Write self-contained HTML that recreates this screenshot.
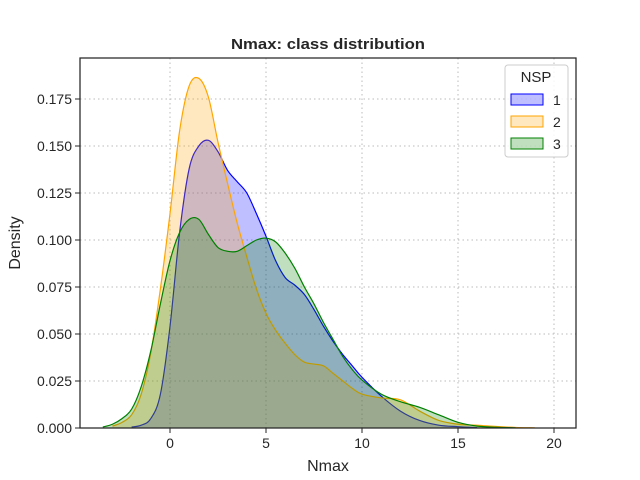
<!DOCTYPE html>
<html><head><meta charset="utf-8"><style>
body{margin:0;background:#fff}
svg{display:block;font-family:"Liberation Sans",sans-serif}
</style></head><body>
<svg id="chart" width="640" height="480" viewBox="0 0 640 480">
<rect width="640" height="480" fill="#fff"/>
<g id="grid"></g>
<g id="series"></g>
<rect x="80" y="58" width="496" height="370" fill="none" stroke="#262626" stroke-width="1.25"/>
<g id="ticks"></g>
<text x="328" y="49" text-anchor="middle" font-size="15" font-weight="bold" fill="#262626" textLength="194" lengthAdjust="spacingAndGlyphs">Nmax: class distribution</text>
<text x="328" y="471" text-anchor="middle" font-size="16" fill="#262626">Nmax</text>
<text transform="translate(20,243) rotate(-90)" text-anchor="middle" font-size="16" fill="#262626">Density</text>
<g>
<rect x="505" y="65" width="63" height="92" rx="3" fill="#fff" fill-opacity="0.85" stroke="#ccc"/>
<text x="536" y="82" text-anchor="middle" font-size="15" fill="#262626">NSP</text>
<rect x="511" y="94" width="32" height="11" fill="rgba(0,0,255,0.25)" stroke="blue"/>
<text x="553" y="105" font-size="14" fill="#262626">1</text>
<rect x="511" y="116" width="32" height="11" fill="rgba(255,165,0,0.25)" stroke="orange"/>
<text x="553" y="127" font-size="14" fill="#262626">2</text>
<rect x="511" y="138" width="32" height="11" fill="rgba(0,128,0,0.25)" stroke="green"/>
<text x="553" y="149" font-size="14" fill="#262626">3</text>
</g>
</svg>
<script>
const xTicks=[0,5,10,15,20];
const yTicks=[0,0.025,0.05,0.075,0.1,0.125,0.15,0.175];
const yTickLabels=["0.000","0.025","0.050","0.075","0.100","0.125","0.150","0.175"];
const blueX=[-2,-1.5,-1,-0.5,0,0.5,1,1.5,2,2.5,3,3.5,4,4.5,5,5.5,6,6.5,7,7.5,8,8.5,9,9.5,10,11,12,13,14,15,16];
const blueY=[0.0005,0.0015,0.005,0.018,0.054,0.104,0.138,0.150,0.153,0.147,0.137,0.131,0.125,0.114,0.102,0.089,0.080,0.076,0.071,0.063,0.054,0.046,0.039,0.033,0.027,0.017,0.009,0.004,0.0015,0.0007,0.0002];
const orangeX=[-3,-2.5,-2,-1.5,-1,-0.5,0,0.5,1,1.5,2,2.5,3,3.5,4,4.5,5,5.5,6,6.5,7,7.5,8,8.5,9,9.5,10,11,12,13,14,15,16,17,18,19];
const orangeY=[0.001,0.003,0.007,0.018,0.040,0.074,0.114,0.158,0.182,0.186,0.176,0.152,0.130,0.109,0.091,0.074,0.061,0.052,0.045,0.039,0.035,0.034,0.033,0.029,0.025,0.021,0.018,0.016,0.015,0.009,0.004,0.002,0.0015,0.0008,0.0003,0.0001];
const greenX=[-3.5,-3,-2.5,-2,-1.5,-1,-0.5,0,0.5,1,1.5,2,2.5,3,3.5,4,4.5,5,5.5,6,6.5,7,7.5,8,8.5,9,9.5,10,11,12,13,14,15,16,17,18];
const greenY=[0.0005,0.002,0.005,0.010,0.022,0.041,0.066,0.089,0.104,0.111,0.111,0.103,0.096,0.094,0.094,0.097,0.100,0.101,0.099,0.093,0.085,0.075,0.066,0.056,0.047,0.038,0.031,0.0255,0.018,0.014,0.011,0.007,0.003,0.001,0.0004,0.0001];
const X0=80,X1=576,Y0=58,Y1=428;
function sx(v){return 170+v*19.2;}
function sy(v){return Y1-v*1880;}
const NS="http://www.w3.org/2000/svg";
const grid=document.getElementById('grid'),ticks=document.getElementById('ticks'),series=document.getElementById('series');
function mk(tag,attrs,parent){const e=document.createElementNS(NS,tag);for(const k in attrs)e.setAttribute(k,attrs[k]);parent.appendChild(e);return e;}
xTicks.forEach(t=>{
  const g=mk('line',{x1:sx(t),x2:sx(t),y1:Y0,y2:Y1,stroke:'#bbb','stroke-dasharray':'1.5,3'},grid);
  
  
  const tk=mk('line',{x1:sx(t),x2:sx(t),y1:Y1,y2:Y1+5,stroke:'#262626'},ticks);
  
  
  const lb=mk('text',{x:sx(t),y:Y1+20,'text-anchor':'middle','font-size':14,fill:'#262626'},ticks);
  lb.textContent=t;
  
  
});
yTicks.forEach((t,i)=>{
  const g=mk('line',{x1:X0,x2:X1,y1:sy(t),y2:sy(t),stroke:'#bbb','stroke-dasharray':'1.5,3'},grid);
  
  
  const tk=mk('line',{x1:X0-5,x2:X0,y1:sy(t),y2:sy(t),stroke:'#262626'},ticks);
  
  
  const lb=mk('text',{x:X0-8,y:sy(t)+5,'text-anchor':'end','font-size':14,fill:'#262626'},ticks);
  lb.textContent=yTickLabels[i];
  
  
});
function smooth(xs,ys){
  const p=xs.map((x,i)=>[sx(x),sy(ys[i])]);
  let d='M'+p[0][0]+','+p[0][1];
  for(let i=0;i<p.length-1;i++){
    const a=p[i-1]||p[i],b=p[i],c=p[i+1],e=p[i+2]||c;
    const c1=[b[0]+(c[0]-a[0])/6,b[1]+(c[1]-a[1])/6];
    const c2=[c[0]-(e[0]-b[0])/6,c[1]-(e[1]-b[1])/6];
    d+=' C'+c1[0]+','+Math.min(c1[1],Y1)+' '+c2[0]+','+Math.min(c2[1],Y1)+' '+c[0]+','+c[1];
  }
  return {d,first:p[0],last:p[p.length-1]};
}
[[blueX,blueY,'blue','rgba(0,0,255,0.25)','kde-class-1'],
 [orangeX,orangeY,'orange','rgba(255,165,0,0.25)','kde-class-2'],
 [greenX,greenY,'green','rgba(0,128,0,0.25)','kde-class-3']].forEach(s=>{
  const r=smooth(s[0],s[1]);
  const f=mk('path',{d:r.d+' L'+r.last[0]+','+Y1+' L'+r.first[0]+','+Y1+' Z',fill:s[3],stroke:'none'},series);
  
  
  const l=mk('path',{d:r.d,fill:'none',stroke:s[2],'stroke-width':1.2},series);
  
  
});
</script>
</body></html>
